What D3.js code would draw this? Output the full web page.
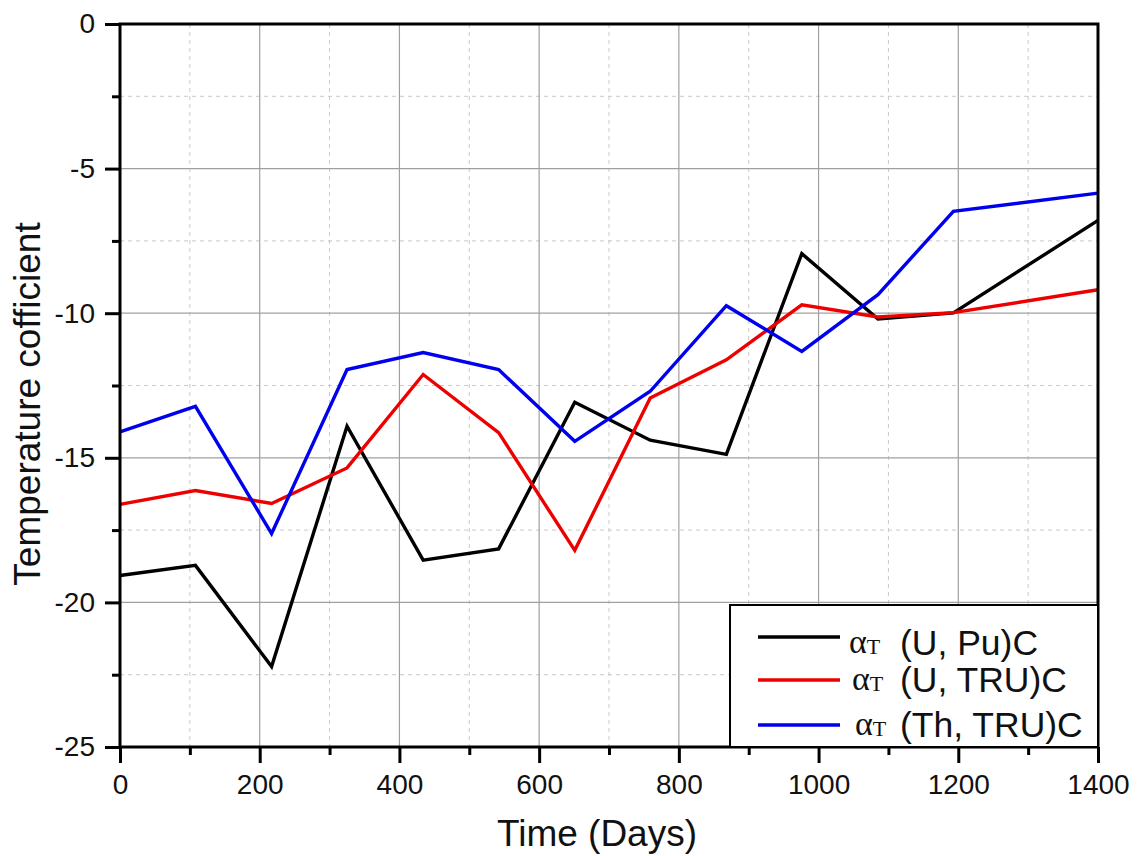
<!DOCTYPE html>
<html>
<head>
<meta charset="utf-8">
<script src="https://cdn.jsdelivr.net/npm/d3@7"></script>
<style>
  html, body { margin: 0; padding: 0; background: #fff; }
  svg { display: block; font-family: Arial, "Liberation Sans", sans-serif; }
</style>
</head>
<body>
<svg id="chart" width="1137" height="856"></svg>
<script>
// ---- data ----
const days = [0, 108, 217, 325, 434, 542, 651, 759, 868, 976, 1085, 1193, 1400];
const seriesNames = ["(U, Pu)C", "(U, TRU)C", "(Th, TRU)C"];
const uPuC   = [-19.07, -18.72, -22.22, -13.91, -18.54, -18.15, -13.08, -14.39, -14.88, -7.94, -10.20, -9.99, -6.79];
const uTruC  = [-16.61, -16.13, -16.58, -15.35, -12.12, -14.13, -18.20, -12.93, -11.61, -9.71, -10.13, -9.98, -9.19];
const thTruC = [-14.10, -13.22, -17.62, -11.95, -11.36, -11.95, -14.43, -12.70, -9.74, -11.32, -9.36, -6.48, -5.85];
const xTicks = [0, 200, 400, 600, 800, 1000, 1200, 1400];
const xMinorTicks = [100, 300, 500, 700, 900, 1100, 1300];
const yTicks = [0, -5, -10, -15, -20, -25];
const yMinorTicks = [-2.5, -7.5, -12.5, -17.5, -22.5];
const colors = ["#000000", "#ee0000", "#0000ee"];
const xTitle = "Time (Days)";
const yTitle = "Temperature cofficient";

// ---- layout ----
const svg = d3.select("#chart");
const L = 120, R = 1098, T = 24, B = 747;
const x = d3.scaleLinear().domain([0, 1400]).range([L, R]);
const y = d3.scaleLinear().domain([-25, 0]).range([B, T]);
const fmt = d => String(d); // plain hyphen-minus as in the reference

// grid
const g = svg.append("g");
g.selectAll(".xminor").data(xMinorTicks).join("line")
  .attr("x1", d => x(d)).attr("x2", d => x(d)).attr("y1", T).attr("y2", B)
  .attr("stroke", "#c8c8c8").attr("stroke-width", 1).attr("stroke-dasharray", "4,4");
g.selectAll(".yminor").data(yMinorTicks).join("line")
  .attr("y1", d => y(d)).attr("y2", d => y(d)).attr("x1", L).attr("x2", R)
  .attr("stroke", "#c8c8c8").attr("stroke-width", 1).attr("stroke-dasharray", "4,4");
g.selectAll(".xmajor").data(xTicks.slice(1, -1)).join("line")
  .attr("x1", d => x(d)).attr("x2", d => x(d)).attr("y1", T).attr("y2", B)
  .attr("stroke", "#a0a0a0").attr("stroke-width", 1.2);
g.selectAll(".ymajor").data(yTicks.slice(1, -1)).join("line")
  .attr("y1", d => y(d)).attr("y2", d => y(d)).attr("x1", L).attr("x2", R)
  .attr("stroke", "#a0a0a0").attr("stroke-width", 1.2);

// lines
const allSeries = [uPuC, uTruC, thTruC];
const line = d3.line().x((d, i) => x(days[i])).y(d => y(d));
svg.append("g").selectAll("path").data(allSeries).join("path")
  .attr("d", d => line(d))
  .attr("fill", "none")
  .attr("stroke", (d, i) => colors[i])
  .attr("stroke-width", 3.4)
  .attr("stroke-linejoin", "miter");

// axes
const xAxis = d3.axisBottom(x).tickValues(xTicks).tickSize(16).tickPadding(11).tickFormat(fmt);
const xAxisMinor = d3.axisBottom(x).tickValues(xMinorTicks).tickSize(8).tickFormat("");
const yAxis = d3.axisLeft(y).tickValues(yTicks).tickSize(15).tickPadding(10).tickFormat(fmt);
const yAxisMinor = d3.axisLeft(y).tickValues(yMinorTicks).tickSize(8).tickFormat("");

function styleAxis(sel) {
  sel.select(".domain").remove();
  sel.selectAll("line").attr("stroke", "#000").attr("stroke-width", 3);
  sel.selectAll("text").attr("fill", "#111").style("font-size", "28px")
     .style("font-family", "Arial, 'Liberation Sans', sans-serif");
}
svg.append("g").attr("transform", `translate(0,${B})`).call(xAxisMinor).call(styleAxis);
svg.append("g").attr("transform", `translate(0,${B})`).call(xAxis).call(styleAxis)
  .selectAll("text").attr("dy", "0.71em");
svg.append("g").attr("transform", `translate(${L},0)`).call(yAxisMinor).call(styleAxis);
svg.append("g").attr("transform", `translate(${L},0)`).call(yAxis).call(styleAxis);

// frame
svg.append("rect").attr("x", L).attr("y", T).attr("width", R - L).attr("height", B - T)
  .attr("fill", "none").attr("stroke", "#000").attr("stroke-width", 3);

// axis titles
svg.append("text").attr("x", 597).attr("y", 846)
  .attr("text-anchor", "middle").style("font-size", "37px").attr("fill", "#111").text(xTitle);
svg.append("text").attr("transform", "translate(40,404) rotate(-90)")
  .attr("text-anchor", "middle").style("font-size", "37px").attr("fill", "#111").text(yTitle);

// legend
const lg = svg.append("g");
lg.append("rect").attr("x", 730).attr("y", 605).attr("width", R - 730).attr("height", B - 605)
  .attr("fill", "#fff").attr("stroke", "#000").attr("stroke-width", 2);
const lineY = [637, 680, 725];
const textY = [655, 692, 737];
seriesNames.forEach((name, i) => {
  lg.append("line").attr("x1", 758).attr("x2", 840).attr("y1", lineY[i]).attr("y2", lineY[i])
    .attr("stroke", colors[i]).attr("stroke-width", 3.4);
  const t = lg.append("text").attr("x", 849 + i * 3).attr("y", textY[i] - 2)
    .style("font-size", "34px").attr("fill", "#111");
  t.append("tspan").style("font-family", "'Liberation Serif', 'DejaVu Serif', serif").text("α");
  t.append("tspan").style("font-family", "'Liberation Serif', 'DejaVu Serif', serif")
    .style("font-size", "22px").attr("dy", 1).text("T");
  lg.append("text").attr("x", 900).attr("y", textY[i])
    .style("font-size", "35.5px").attr("fill", "#111").text(name);
});
</script>
</body>
</html>
